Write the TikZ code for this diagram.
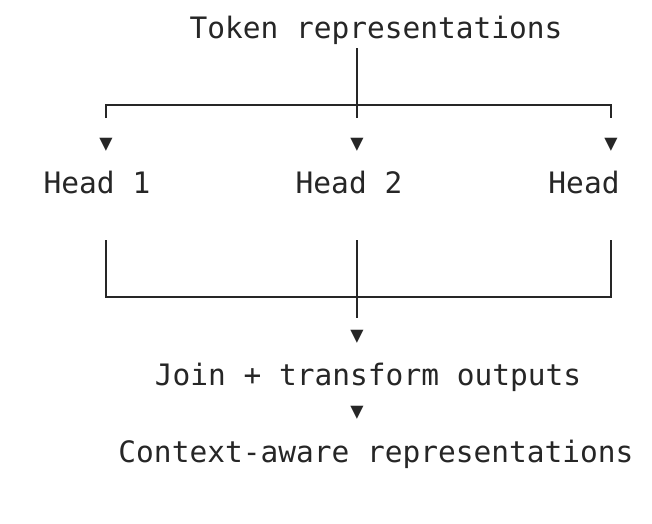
\documentclass[tikz,border=0pt]{standalone}
\usepackage{fontspec}
\setmonofont{DejaVu Sans Mono}
\begin{document}
\begin{tikzpicture}[x=1pt,y=-1pt,
  lbl/.style={font=\ttfamily\fontsize{29.5}{30}\selectfont, text=black!85, inner sep=0pt, anchor=base},
  tip/.style={font=\ttfamily\fontsize{22}{22}\selectfont, text=black!85, inner sep=0pt},
  ln/.style={line width=1.5pt, draw=black!85}]
\useasboundingbox (0,0) rectangle (652,523);
\node[lbl] (tok) at (376,38) {Token representations};
\coordinate (t0) at (357,48);
\coordinate (t1) at (357,105);
\coordinate (tl) at (106,105);
\coordinate (tr) at (611,105);
\coordinate (tld) at (106,118);
\coordinate (tmd) at (357,118);
\coordinate (trd) at (611,118);
\draw[ln] (t0) -- (t1);
\draw[ln] (tld) -- (tl) -- (tr) -- (trd);
\draw[ln] (t1) -- (tmd);
\node[tip] (a1) at (106,145) {▼};
\node[tip] (a2) at (357,145) {▼};
\node[tip] (a3) at (611,145) {▼};
\node[lbl] (h1) at (97,193) {Head 1};
\node[lbl] (h2) at (349,193) {Head 2};
\node[lbl] (h3) at (584,193) {Head};
\coordinate (b1) at (106,240);
\coordinate (b2) at (357,240);
\coordinate (b3) at (611,240);
\coordinate (c1) at (106,297);
\coordinate (c2) at (357,297);
\coordinate (c3) at (611,297);
\coordinate (c4) at (357,318);
\draw[ln] (b1) -- (c1) -- (c3) -- (b3);
\draw[ln] (b2) -- (c4);
\node[tip] (a4) at (357,337) {▼};
\node[lbl] (join) at (368,385) {Join + transform outputs};
\node[tip] (a5) at (357,413) {▼};
\node[lbl] (ctx) at (376,462) {Context-aware representations};
\end{tikzpicture}
\end{document}
